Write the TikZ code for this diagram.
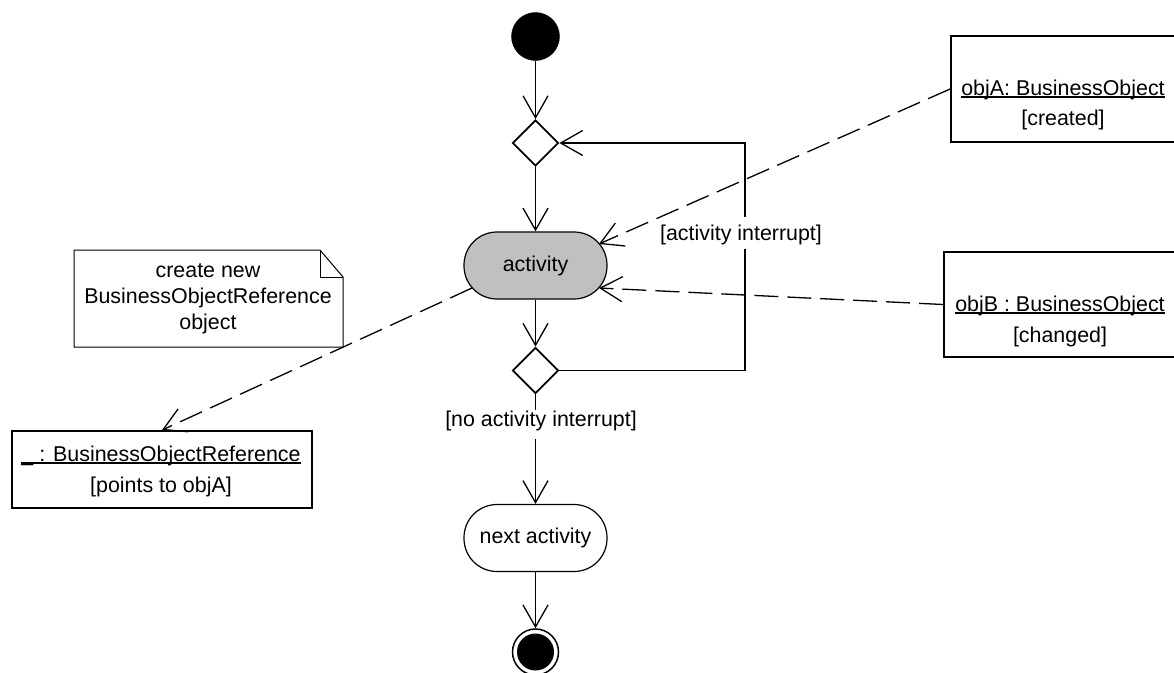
\documentclass[tikz,border=0pt]{standalone}
\usepackage{fontspec}
\setmainfont{Liberation Sans}
\usetikzlibrary{shapes.geometric,arrows.meta,calc}

% underlined text with a rule at a fixed depth below the baseline
\newcommand\ulbox[1]{\setbox0\hbox{#1}\rlap{\rule[-2.6pt]{\wd0}{1.2pt}}\box0}

\definecolor{actgrey}{RGB}{192,192,192}

\begin{document}
\begin{tikzpicture}[x=1pt,y=-1pt,
  every node/.style={font=\fontsize{21.4}{25}\selectfont},
  flow/.style={line width=1.3pt,
    -{Straight Barb[length=22pt,width=25pt,line width=1.3pt]}},
  dep/.style={flow, dash pattern=on 24pt off 9pt},
  initial/.style={circle, fill=black, draw=black, minimum size=48pt, inner sep=0pt},
  decision/.style={diamond, draw, line width=1.8pt, fill=white,
    minimum width=46pt, minimum height=46pt, inner sep=0pt},
  action/.style={draw, rectangle, rounded corners=33pt, line width=1.2pt,
    minimum width=143pt, minimum height=67pt, inner sep=0pt},
  objbox/.style={draw, rectangle, line width=1.8pt, fill=white, inner sep=0pt},
  txt/.style={anchor=base, inner sep=0pt},
  guard/.style={anchor=base, fill=white, inner xsep=2pt, inner ysep=1pt},
  notepen/.style={draw, line width=1pt, fill=white},
]
\useasboundingbox (0,0) rectangle (1174,672);
\clip (0,0) rectangle (1174,672);

% control flow
\node[initial] (start) at (535.5,36.5) {};
\node[decision] (d1) at (535.5,143) {};
\node[action, fill=actgrey] (act) at (535.5,265.5) {activity};
\node[decision] (d2) at (535.5,370.5) {};
\node[action, fill=white] (next) at (535.5,538) {next activity};
\node[circle, draw, line width=1.5pt, fill=white, minimum size=46pt, inner sep=0pt] (end) at (535.5,652) {};
\node[circle, fill=black, minimum size=37pt, inner sep=0pt] (endDot) at (end.center) {};

\draw[flow] (start) -- (d1);
\draw[flow] (d1) -- (act);
\draw[flow] (act) -- (d2);
\draw[flow] (d2) -- (next);
\draw[flow] (next) -- (end);

% loop back when the activity is interrupted
\coordinate (loopR) at (745,0);
\draw[flow] (d2.east) -- (d2.east -| loopR) -- (d1.east -| loopR) -- (d1.east);

\node[guard, text height=22pt, text depth=8pt] (gInt) at (741,240) {[activity interrupt]};
\node[guard, text height=15pt, text depth=12pt] (gNo) at (541,426) {[no activity interrupt]};

% object nodes
\node[objbox, minimum width=224pt, minimum height=106pt] (objA) at (1063,89) {};
\node[txt] (objAname) at (1063,95) {\ulbox{objA: BusinessObject}};
\node[txt] (objAstate) at (1063,125) {[created]};

\node[objbox, minimum width=232pt, minimum height=105pt] (objB) at (1060,304.5) {};
\node[txt] (objBname) at (1060,311) {\ulbox{objB : BusinessObject}};
\node[txt] (objBstate) at (1060,342) {[changed]};

\node[objbox, minimum width=300pt, minimum height=77pt] (ref) at (162,469.5) {};
\node[txt] (refname) at (161,461) {\ulbox{\_ : BusinessObjectReference}};
\node[txt] (refstate) at (161,492) {[points to objA]};

% note
\draw[notepen] (74,250) -- (320,250) -- (343,277) -- (343,347) -- (74,347) -- cycle;
\draw[line width=1pt] (320,250) -- (320,277) -- (343,277);
\node[txt] (note1) at (208,277) {create new};
\node[txt] (note2) at (208,303) {BusinessObjectReference};
\node[txt] (note3) at (208,329) {object};

% object flows
\coordinate (actNE) at (599,244);
\coordinate (actSE) at (599,288);
\coordinate (actSW) at (472,288);
\draw[dep] (objA.west) -- (actNE);
\draw[dep] (objB.west) -- (actSE);
\draw[dep] (actSW) -- (ref.north);
\end{tikzpicture}
\end{document}
